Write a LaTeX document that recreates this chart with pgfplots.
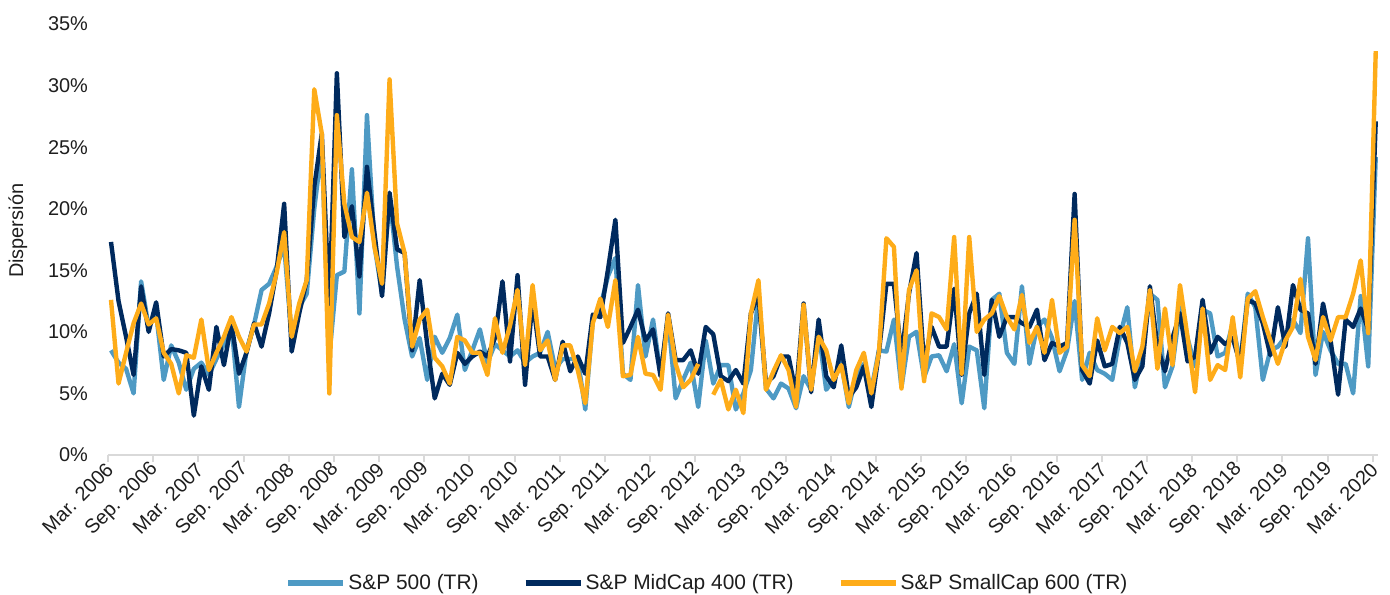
\documentclass[border=0pt]{standalone}
\usepackage{pgfplots}
\pgfplotsset{compat=1.18}
\usepackage{pgfplotstable}
\usepackage{fontspec}
\setmainfont{Liberation Sans}
\definecolor{lb}{RGB}{78,154,196}
\definecolor{nv}{RGB}{0,42,94}
\definecolor{orc}{RGB}{254,172,25}
\definecolor{axg}{RGB}{217,217,217}
\definecolor{txt}{RGB}{30,30,30}
\pgfplotstableread{
n lb nv or
0 8.5 17.3 12.6
1 7.5 12.5 5.8
2 7.0 9.6 8.3
3 5.0 6.5 10.7
4 14.1 13.7 12.3
5 10.4 10.0 10.6
6 11.5 12.4 11.1
7 6.1 8.0 8.3
8 8.9 8.6 7.4
9 7.5 8.5 5.0
10 5.3 8.3 8.1
11 7.0 3.2 7.9
12 7.5 7.2 11.0
13 6.5 5.3 6.9
14 7.8 10.4 8.3
15 9.0 7.3 9.6
16 10.6 10.7 11.2
17 3.9 6.6 9.6
18 8.5 8.3 8.4
19 10.6 10.7 10.6
20 13.4 8.8 10.6
21 13.9 11.5 12.3
22 15.3 15.0 14.8
23 17.0 20.4 18.1
24 9.5 8.4 9.6
25 12.0 11.5 12.3
26 13.1 14.2 14.2
27 20.0 21.8 29.7
28 25.0 26.1 26.1
29 8.0 12.0 5.0
30 14.6 31.0 27.6
31 14.9 17.7 20.4
32 23.2 20.2 17.7
33 11.5 14.5 17.3
34 27.6 23.4 21.3
35 17.0 18.0 16.9
36 13.1 12.9 13.9
37 21.0 21.3 30.5
38 15.3 16.7 18.8
39 11.0 16.4 16.4
40 8.0 8.5 8.8
41 9.5 14.2 11.0
42 6.1 9.0 11.8
43 9.6 4.6 7.9
44 8.3 6.6 7.2
45 9.5 5.7 5.8
46 11.4 8.3 9.6
47 6.9 7.4 9.3
48 8.5 8.0 8.3
49 10.2 8.4 8.3
50 7.5 8.0 6.5
51 9.0 9.5 11.1
52 8.5 14.1 8.3
53 8.0 7.6 10.5
54 8.5 14.6 13.4
55 7.5 5.7 7.3
56 8.0 12.6 13.8
57 8.3 8.0 8.5
58 10.0 8.0 9.3
59 7.0 6.1 6.1
60 7.8 9.2 8.9
61 7.8 6.8 8.9
62 7.8 8.0 6.9
63 3.7 6.6 4.2
64 10.9 11.4 10.7
65 12.0 11.2 12.7
66 14.5 15.0 10.4
67 16.0 19.1 14.2
68 6.6 9.1 6.4
69 6.1 10.4 6.5
70 13.8 11.8 9.6
71 8.0 9.3 6.6
72 11.0 10.2 6.5
73 6.5 6.4 5.3
74 11.2 11.5 11.4
75 4.6 7.7 7.4
76 6.1 7.7 5.5
77 7.5 8.5 6.1
78 3.9 6.6 7.4
79 9.3 10.4 nan
80 5.8 9.8 4.9
81 7.3 6.4 6.1
82 7.3 6.0 3.7
83 3.7 6.9 5.3
84 5.0 5.8 3.4
85 6.9 11.5 11.5
86 13.0 13.0 14.2
87 5.4 5.8 5.3
88 4.6 6.4 6.8
89 5.8 8.0 8.1
90 5.4 8.0 6.9
91 3.8 5.0 3.9
92 6.4 12.3 12.2
93 5.3 5.1 5.3
94 10.0 11.0 9.6
95 5.3 6.4 8.5
96 6.1 5.5 6.1
97 7.5 8.9 7.3
98 3.9 4.7 4.2
99 6.4 5.5 6.9
100 7.4 7.2 8.3
101 5.3 3.9 5.0
102 8.5 8.3 8.3
103 8.4 13.9 17.6
104 11.0 13.9 16.9
105 5.5 8.0 5.4
106 9.6 13.1 13.4
107 10.0 16.4 15.0
108 6.3 7.4 6.0
109 8.0 10.4 11.5
110 8.1 8.8 11.2
111 6.8 8.8 10.2
112 9.0 13.5 17.7
113 4.2 6.5 6.6
114 8.8 11.5 17.7
115 8.5 13.1 10.0
116 3.8 6.5 11.0
117 12.6 12.6 11.5
118 13.1 9.6 12.9
119 8.3 11.2 11.2
120 7.4 11.2 10.2
121 13.7 10.7 13.0
122 7.4 10.4 9.1
123 10.4 11.8 10.4
124 11.0 7.7 8.3
125 9.5 9.1 12.6
126 6.8 8.8 8.3
127 8.5 9.1 8.8
128 12.5 21.2 19.1
129 6.1 6.9 7.3
130 8.3 5.8 6.4
131 6.9 9.3 11.1
132 6.6 7.2 8.5
133 6.1 7.4 10.4
134 9.6 10.4 9.9
135 12.0 9.1 10.4
136 5.5 6.1 6.8
137 8.3 7.2 8.8
138 13.1 13.7 13.4
139 12.6 8.8 7.0
140 5.5 6.8 11.9
141 7.2 9.5 7.3
142 12.0 11.5 13.8
143 9.5 7.6 9.6
144 7.2 8.0 5.1
145 11.8 12.6 11.9
146 11.5 8.3 6.1
147 8.0 9.6 7.3
148 8.3 9.0 6.9
149 10.7 9.5 11.2
150 7.4 7.4 6.3
151 13.1 12.6 12.7
152 12.0 12.3 13.3
153 6.1 10.7 11.2
154 8.5 8.1 9.3
155 8.8 12.0 7.4
156 9.6 8.8 9.3
157 11.0 13.8 10.4
158 9.9 11.8 14.3
159 17.6 11.5 9.6
160 6.5 7.4 7.7
161 10.0 12.3 11.2
162 8.5 9.3 9.3
163 7.4 4.9 11.2
164 7.4 11.0 11.2
165 5.0 10.4 13.1
166 12.9 11.9 15.8
167 7.2 10.2 9.9
168 24.2 27.1 32.8
}\data
\begin{document}
\begin{tikzpicture}
\path[use as bounding box] (-54bp,-70bp) rectangle (641bp,227.5bp);
\begin{axis}[
  at={(0,0)}, anchor=south west,
  scale only axis, width=635bp, height=215.5bp,
  xmin=-0.4, xmax=168.3, ymin=0, ymax=35,
  font=\fontsize{10}{12}\selectfont,
  /pgf/number format/assume math mode=true,
  separate axis lines,
  axis x line*=bottom, axis y line*=left,
  y axis line style={draw=none},
  x axis line style={-, draw=axg, line width=1bp},
  xtick={-0.4,5.6,11.6,17.6,23.6,29.6,35.6,41.6,47.6,53.6,59.6,65.6,71.6,77.6,83.6,89.6,95.6,101.6,107.6,113.6,119.6,125.6,131.6,137.6,143.6,149.6,155.6,161.6,167.6},
  xticklabels={Mar. 2006,Sep. 2006,Mar. 2007,Sep. 2007,Mar. 2008,Sep. 2008,Mar. 2009,Sep. 2009,Mar. 2010,Sep. 2010,Mar. 2011,Sep. 2011,Mar. 2012,Sep. 2012,Mar. 2013,Sep. 2013,Mar. 2014,Sep. 2014,Mar. 2015,Sep. 2015,Mar. 2016,Sep. 2016,Mar. 2017,Sep. 2017,Mar. 2018,Sep. 2018,Mar. 2019,Sep. 2019,Mar. 2020},
  xtick style={draw=axg, line width=1bp},
  tick align=outside, major tick length=3.5bp,
  xticklabel style={xshift=2bp, yshift=-1bp, rotate=45, anchor=east, text=txt, inner sep=1.5bp},
  ytick={0,5,10,15,20,25,30,35},
  yticklabels={0\%,5\%,10\%,15\%,20\%,25\%,30\%,35\%},
  ytick style={draw=none},
  yticklabel style={text=txt, xshift=-3bp},
  ylabel={Dispersión},
  ylabel style={at={(axis description cs:-0.0709,0.52)}, anchor=center, text=txt},
  unbounded coords=jump,
  legend columns=3,
  legend style={at={(axis description cs:0.472,-0.297)}, anchor=center, draw=none,
    font=\fontsize{10.5}{12}\selectfont, text=txt,
    /tikz/every even column/.append style={column sep=21bp},
    nodes={inner sep=1bp}},
  legend image code/.code={\draw[#1,line width=3bp] (0bp,0bp) -- (27.5bp,0bp);},
]
\addplot[lb, line width=2.2bp, line join=round] table[x=n,y=lb]{\data};
\addlegendentry{S\&P 500 (TR)}
\addplot[nv, line width=2.2bp, line join=round] table[x=n,y=nv]{\data};
\addlegendentry{S\&P MidCap 400 (TR)}
\addplot[orc, line width=2.2bp, line join=round] table[x=n,y=or]{\data};
\addlegendentry{S\&P SmallCap 600 (TR)}
\end{axis}
\end{tikzpicture}
\end{document}
